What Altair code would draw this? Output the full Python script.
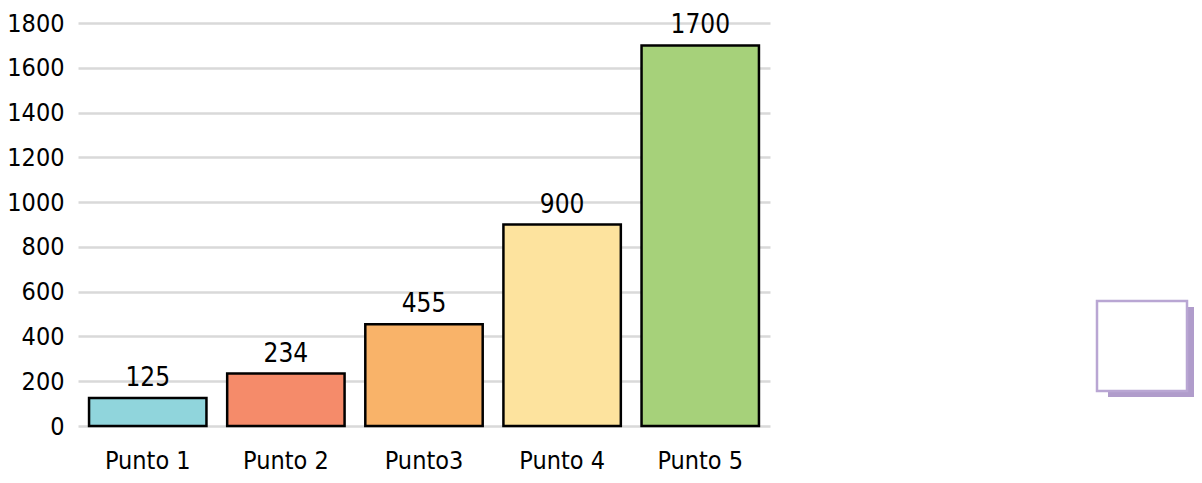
import altair as alt
import pandas as pd

categories = ["Punto 1", "Punto 2", "Punto3", "Punto 4", "Punto 5"]
values = [125, 234, 455, 900, 1700]
colors = ["#90d5dc", "#f58b6a", "#f9b369", "#fde39e", "#a6d17a"]
y_ticks = [0, 200, 400, 600, 800, 1000, 1200, 1400, 1600, 1800]

df = pd.DataFrame({"cat": categories, "val": values, "col": colors})

FONT = "Liberation Sans Narrow, DejaVu Sans Condensed, Roboto, sans-serif"

x = alt.X("cat:N", sort=categories, title=None,
          scale=alt.Scale(paddingInner=0.15, paddingOuter=0.08),
          axis=alt.Axis(labelAngle=0, labelFontSize=25, labelFont=FONT, labelColor="#000",
                        domain=False, ticks=False, labelPadding=22, grid=False))
y = alt.Y("val:Q", title=None,
          scale=alt.Scale(domain=[0, 1800], nice=False),
          axis=alt.Axis(values=y_ticks, format="d", labelFontSize=25, labelFont=FONT,
                        labelColor="#000", domain=False, ticks=False, labelPadding=14,
                        gridColor="#d9d9d9", gridWidth=2.5))

bars = alt.Chart(df).mark_bar(stroke="#000", strokeWidth=2.5).encode(
    x=x, y=y, color=alt.Color("col:N", scale=None)
)
labels = alt.Chart(df).mark_text(baseline="bottom", dy=-7, fontSize=26, font=FONT, color="#000").encode(
    x=alt.X("cat:N", sort=categories), y="val:Q", text="val:Q"
)

deco_df = pd.DataFrame({"k": [0]})
shadow = alt.Chart(deco_df).mark_rect(color="#b09ccb").encode(
    x=alt.value(1030), x2=alt.value(1120), y=alt.value(284), y2=alt.value(374)
)
box = alt.Chart(deco_df).mark_rect(fill="#ffffff", stroke="#b9a6d3", strokeWidth=2.5).encode(
    x=alt.value(1019), x2=alt.value(1109), y=alt.value(278), y2=alt.value(368)
)

chart = alt.layer(bars, labels, shadow, box).properties(
    width=692, height=403,
    autosize=alt.AutoSizeParams(type="none"),
    padding={"left": 70, "top": 15, "right": 424, "bottom": 50},
).configure_view(stroke=None)

chart.save("out.html", embed_options={"renderer": "svg", "actions": False})
